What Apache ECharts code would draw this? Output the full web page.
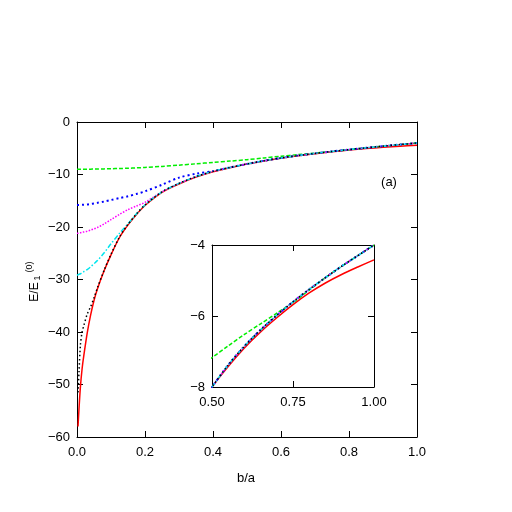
<!DOCTYPE html>
<html>
<head>
<meta charset="utf-8">
<script src="https://cdn.jsdelivr.net/npm/echarts@6/dist/echarts.min.js"></script>
<style>
  html, body { margin: 0; padding: 0; background: #fff; }
  #chart { width: 512px; height: 512px; }
</style>
</head>
<body>
<div id="chart"></div>
<script>
// b/a grid shared by every curve
var xs = [0, 0.003, 0.006, 0.01, 0.015, 0.02, 0.03, 0.04, 0.05, 0.06, 0.08, 0.1, 0.125, 0.15, 0.175, 0.2,
  0.25, 0.3, 0.35, 0.4, 0.45, 0.5, 0.55, 0.6, 0.65, 0.7, 0.75, 0.8, 0.85, 0.9, 0.95, 1.0]

// E/E1(0) for each curve (null = not drawn)
var red = [null, -58, -54.5, -50.5, -47, -44.5, -40.2, -36.8, -34.0, -31.8, -28.3, -25.3, -22.0, -19.6, -17.6, -15.9,
  -13.4, -11.8, -10.5, -9.5, -8.7, -8.0, -7.42, -6.9, -6.45, -6.05, -5.68, -5.35, -5.07, -4.83, -4.62, -4.42]
var green = [-9.0, -9.0, -9.0, -9.0, -9.0, -9.0, -8.99, -8.98, -8.97, -8.96, -8.93, -8.9, -8.86, -8.81, -8.74, -8.66,
  -8.46, -8.22, -7.96, -7.7, -7.45, -7.17, -6.84, -6.52, -6.22, -5.92, -5.62, -5.27, -4.92, -4.6, -4.3, -4.0]
var blue = [-15.8, -15.8, -15.8, -15.8, -15.78, -15.75, -15.7, -15.6, -15.5, -15.4, -15.15, -14.85, -14.5, -14.15, -13.7, -13.2,
  -11.95, -10.6, -9.85, -9.35, -8.65, -8.0, -7.38, -6.85, -6.39, -5.98, -5.6, -5.25, -4.92, -4.6, -4.3, -4.0]
var magenta = [-21.2, -21.2, -21.15, -21.1, -21.0, -20.95, -20.8, -20.6, -20.35, -20.1, -19.4, -18.6, -17.6, -16.7, -16.0, -15.3,
  -13.3, -11.7, -10.4, -9.4, -8.65, -8.0, -7.38, -6.85, -6.39, -5.98, -5.6, -5.25, -4.92, -4.6, -4.3, -4.0]
var cyan = [-29.2, -29.1, -29.0, -28.9, -28.7, -28.5, -28.1, -27.6, -27.0, -26.4, -24.9, -23.2, -21.2, -19.4, -17.5, -15.8,
  -13.3, -11.7, -10.4, -9.4, -8.65, -8.0, -7.38, -6.85, -6.39, -5.98, -5.6, -5.25, -4.92, -4.6, -4.3, -4.0]
var black = [null, -51.5, -47.5, -42.5, -40, -38.8, -36.6, -35.2, -33.5, -31.6, -28.2, -25.2, -21.9, -19.5, -17.5, -15.8,
  -13.3, -11.7, -10.4, -9.4, -8.65, -8.0, -7.38, -6.85, -6.39, -5.98, -5.6, -5.25, -4.92, -4.6, -4.3, -4.0]

var curves = [
  { data: red, color: '#ff0000', type: 'solid', width: 1.5 },
  { data: green, color: '#00ee00', type: [4, 2], width: 1.5 },
  { data: blue, color: '#0000ff', type: [2, 3], width: 2 },
  { data: magenta, color: '#ff00ff', type: [1.5, 1.5], width: 1.5 },
  { data: cyan, color: '#00e5ee', type: [5, 2, 1.5, 2], width: 1.5 },
  { data: black, color: '#000000', type: [1.5, 2.5], width: 1.5 }
]

var font = '"Liberation Sans", Arial, sans-serif'
var minus = function (v) { return String(v).replace('-', '\u2212') }

function pairs (arr) {
  var out = []
  for (var i = 0; i < xs.length; i++) {
    if (arr[i] !== null) out.push([xs[i], arr[i]])
  }
  return out
}

function axisX (gridIndex, min, max, interval, digits, show) {
  return {
    type: 'value', gridIndex: gridIndex, min: min, max: max, interval: interval,
    position: show ? 'bottom' : 'top',
    axisLine: { show: true, onZero: false, lineStyle: { color: '#000', width: 1 } },
    axisTick: { show: true, inside: true, length: 6, lineStyle: { color: '#000' } },
    axisLabel: { show: show, margin: 9, color: '#000', fontSize: 13, fontFamily: font,
      formatter: function (v) { return v.toFixed(digits) } },
    splitLine: { show: false }
  }
}

function axisY (gridIndex, min, max, interval, show) {
  return {
    type: 'value', gridIndex: gridIndex, min: min, max: max, interval: interval,
    position: show ? 'left' : 'right',
    axisLine: { show: true, onZero: false, lineStyle: { color: '#000', width: 1 } },
    axisTick: { show: true, inside: true, length: 6, lineStyle: { color: '#000' } },
    axisLabel: { show: show, margin: 7, color: '#000', fontSize: 13, fontFamily: font, formatter: minus },
    splitLine: { show: false }
  }
}

var series = []
;[0, 2].forEach(function (ax) {
  curves.forEach(function (c) {
    series.push({
      type: 'line', xAxisIndex: ax, yAxisIndex: ax, data: pairs(c.data),
      smooth: 0.3, showSymbol: false, clip: true, silent: true,
      lineStyle: { color: c.color, type: c.type, width: c.width }
    })
  })
})

var chart = echarts.init(document.getElementById('chart'))
chart.setOption({
  backgroundColor: '#fff',
  animation: false,
  grid: [
    { left: 77, top: 122, width: 340, height: 315 },
    { left: 212, top: 245, width: 162, height: 142 }
  ],
  xAxis: [
    axisX(0, 0, 1, 0.2, 1, true),
    axisX(0, 0, 1, 0.2, 1, false),
    axisX(1, 0.5, 1, 0.25, 2, true),
    axisX(1, 0.5, 1, 0.25, 2, false)
  ],
  yAxis: [
    axisY(0, -60, 0, 10, true),
    axisY(0, -60, 0, 10, false),
    axisY(1, -8, -4, 2, true),
    axisY(1, -8, -4, 2, false)
  ],
  series: series,
  graphic: [
    { type: 'text', x: 246, y: 478, style: { text: 'b/a', font: '13px ' + font, fill: '#000', textAlign: 'center', textVerticalAlign: 'middle' } },
    { type: 'text', x: 389, y: 182, style: { text: '(a)', font: '13px ' + font, fill: '#000', textAlign: 'center', textVerticalAlign: 'middle' } },
    { type: 'text', x: 35, y: 292, rotation: Math.PI / 2, style: { text: 'E/E', font: '12px ' + font, fill: '#000', textAlign: 'center', textVerticalAlign: 'middle' } },
    { type: 'text', x: 38, y: 278, rotation: Math.PI / 2, style: { text: '1', font: '9px ' + font, fill: '#000', textAlign: 'center', textVerticalAlign: 'middle' } },
    { type: 'text', x: 30, y: 267, rotation: Math.PI / 2, style: { text: '(0)', font: '9px ' + font, fill: '#000', textAlign: 'center', textVerticalAlign: 'middle' } }
  ]
})
</script>
</body>
</html>
